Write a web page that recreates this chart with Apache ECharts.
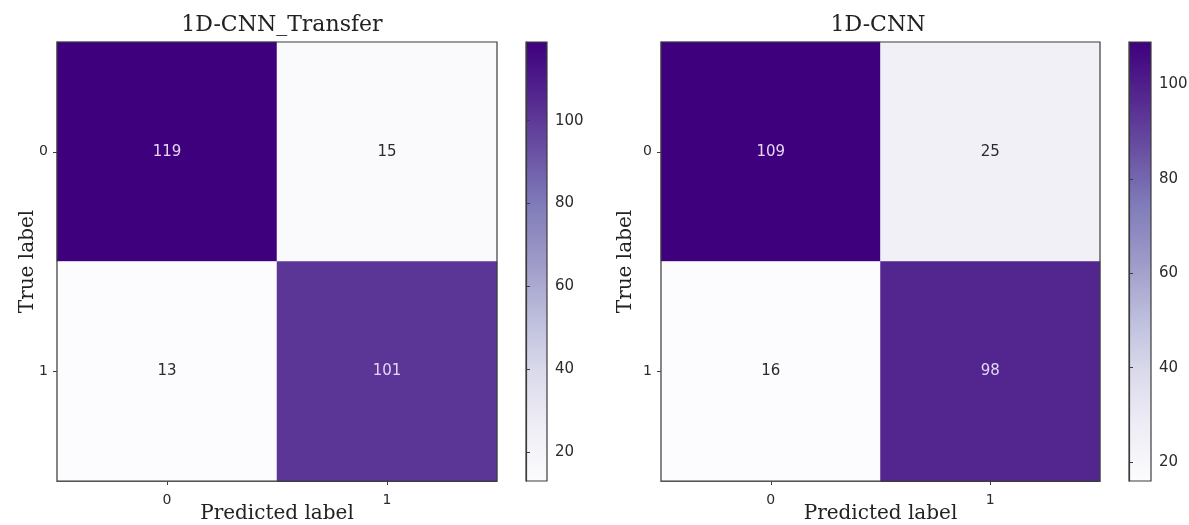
<!DOCTYPE html>
<html>
<head>
<meta charset="utf-8">
<script src="https://cdn.jsdelivr.net/npm/echarts@6/dist/echarts.min.js"></script>
<style>
  html, body { margin: 0; padding: 0; background: #ffffff; }
  #chart { width: 1189px; height: 525px; }
</style>
</head>
<body>
<div id="chart"></div>
<script>
// ---- data ----
const classes = ['0', '1'];
const panelTitles = ['1D-CNN_Transfer', '1D-CNN'];
const transferMatrix = [[119, 15], [13, 101]]; // rows: true label, cols: predicted label
const cnnMatrix = [[109, 25], [16, 98]];
const colorbarTicks = [20, 40, 60, 80, 100];
const xAxisTitle = 'Predicted label';
const yAxisTitle = 'True label';

// ---- style ----
const purples = ['#fcfbfd', '#efedf5', '#dadaeb', '#bcbddc', '#9e9ac8', '#807dba', '#6a51a3', '#54278f', '#3f007d'];
const serif = '"DejaVu Serif", "Liberation Serif", serif';
const sans = '"DejaVu Sans", sans-serif';
const spine = '#3c3c3c';

const matrices = [transferMatrix, cnnMatrix];
const layout = [
  { left: 57, width: 440, cbLeft: 526, cbWidth: 21, titleX: 277, yNameGap: 19 },
  { left: 661, width: 439, cbLeft: 1129, cbWidth: 22, titleX: 873, yNameGap: 25 }
];
const TOP = 42, HEIGHT = 439;

function toData(m) {
  const flat = m.flat();
  const lo = Math.min(...flat), hi = Math.max(...flat);
  const mid = (lo + hi) / 2;
  const out = [];
  m.forEach((row, i) => row.forEach((v, j) => {
    out.push({ value: [j, i, v], label: { color: v > mid ? '#e4d6f4' : '#2b2b2b' } });
  }));
  return { out, lo, hi };
}

const gradient = {
  type: 'linear', x: 0, y: 1, x2: 0, y2: 0,
  colorStops: purples.map((c, k) => ({ offset: k / (purples.length - 1), color: c }))
};

const grids = [], xAxes = [], yAxes = [], series = [], visualMaps = [], titles = [];
matrices.forEach((m, p) => {
  const L = layout[p];
  const d = toData(m);
  grids.push({ left: L.left, top: TOP, width: L.width, height: HEIGHT, show: true,
    outerBoundsMode: 'none', containLabel: false,
    z: 5, backgroundColor: 'transparent', borderColor: spine, borderWidth: 1.2 });
  grids.push({ left: L.cbLeft, top: TOP, width: L.cbWidth, height: HEIGHT, show: true,
    outerBoundsMode: 'none', containLabel: false,
    z: 0, backgroundColor: gradient, borderColor: spine, borderWidth: 1.2 });

  const gi = p * 2, ci = p * 2 + 1;
  xAxes.push({
    gridIndex: gi, type: 'category', data: classes, position: 'bottom',
    axisLine: { show: true, lineStyle: { color: spine, width: 1.2 } },
    axisTick: { show: true, alignWithLabel: true, length: 4, lineStyle: { color: spine } },
    axisLabel: { fontFamily: sans, fontSize: 14, color: '#2b2b2b', margin: 12 },
    splitLine: { show: false }, splitArea: { show: false },
    name: xAxisTitle, nameLocation: 'middle', nameGap: 23, nameMoveOverlap: false,
    nameTextStyle: { fontFamily: serif, fontSize: 20, color: '#222' }
  });
  yAxes.push({
    gridIndex: gi, type: 'category', data: classes, inverse: true,
    axisLine: { show: true, lineStyle: { color: spine, width: 1.2 } },
    axisTick: { show: true, alignWithLabel: true, length: 4, lineStyle: { color: spine } },
    axisLabel: { fontFamily: sans, fontSize: 14, color: '#2b2b2b', margin: 9 },
    splitLine: { show: false }, splitArea: { show: false },
    name: yAxisTitle, nameLocation: 'middle', nameGap: L.yNameGap, nameRotate: 90, nameMoveOverlap: false,
    nameTextStyle: { fontFamily: serif, fontSize: 20, color: '#222' }
  });
  xAxes.push({ gridIndex: ci, type: 'value', show: false, min: 0, max: 1 });
  yAxes.push({
    gridIndex: ci, type: 'value', position: 'right', min: d.lo, max: d.hi,
    axisLine: { show: true, lineStyle: { color: spine, width: 1.2 } },
    axisTick: { show: true, length: 4, customValues: colorbarTicks, lineStyle: { color: spine } },
    axisLabel: { fontFamily: sans, fontSize: 15, color: '#2b2b2b', margin: 8, customValues: colorbarTicks },
    splitLine: { show: false }
  });

  series.push({
    type: 'heatmap', xAxisIndex: gi, yAxisIndex: gi, data: d.out,
    label: { show: true, fontFamily: sans, fontSize: 15, formatter: (q) => q.value[2] },
    itemStyle: { borderWidth: 0 },
    emphasis: { disabled: true }
  });
  visualMaps.push({
    type: 'continuous', show: false, seriesIndex: p, dimension: 2,
    min: d.lo, max: d.hi, inRange: { color: purples }
  });
  titles.push({
    text: panelTitles[p], left: L.titleX, top: 9, textAlign: 'center',
    textStyle: { fontFamily: serif, fontSize: 22, fontWeight: 'normal', color: '#222' }
  });
});

const chart = echarts.init(document.getElementById('chart'), null, { renderer: 'canvas' });
chart.setOption({
  backgroundColor: '#ffffff',
  animation: false,
  title: titles,
  grid: grids,
  xAxis: xAxes,
  yAxis: yAxes,
  visualMap: visualMaps,
  series: series
});
</script>
</body>
</html>
